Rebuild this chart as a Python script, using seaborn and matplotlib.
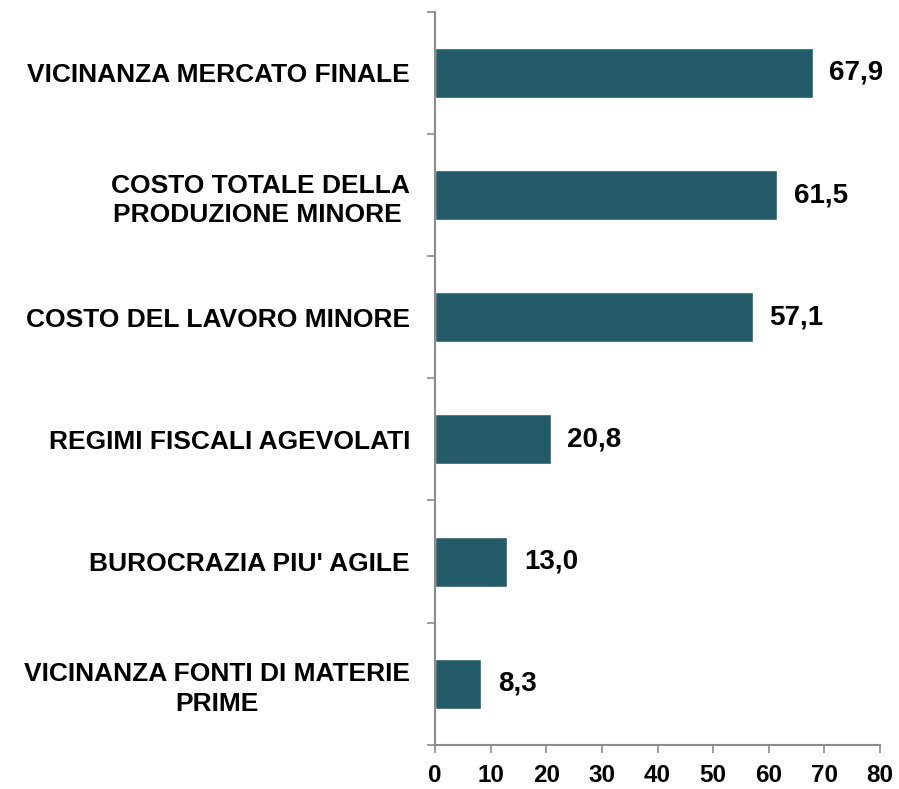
import numpy as np
import pandas as pd
import matplotlib
matplotlib.use("Agg")
import matplotlib.pyplot as plt
import seaborn as sns
from matplotlib.ticker import FixedLocator

categorie = [
    "VICINANZA MERCATO FINALE",
    "COSTO TOTALE DELLA\nPRODUZIONE MINORE ",
    "COSTO DEL LAVORO MINORE",
    "REGIMI FISCALI AGEVOLATI",
    "BUROCRAZIA PIU' AGILE",
    "VICINANZA FONTI DI MATERIE\nPRIME",
]
valori = [67.9, 61.5, 57.1, 20.8, 13.0, 8.3]
xticks = [0, 10, 20, 30, 40, 50, 60, 70, 80]

df = pd.DataFrame({"Motivo": categorie, "Valore": valori})

sns.set_style("white")
plt.rcParams["font.family"] = ["Liberation Sans", "DejaVu Sans"]
plt.rcParams["font.weight"] = "bold"

fig = plt.figure(figsize=(8.99, 7.89), dpi=100)
ax = fig.add_axes([0.484, 0.056, 0.495, 0.929])

sns.barplot(data=df, y="Motivo", x="Valore", orient="h", color="#235B69",
            saturation=1, width=0.41, ax=ax)

ax.set_xlim(0, 80)
ax.set_ylim(5.5, -0.5)
ax.set_xticks(xticks)
ax.set_xticklabels([str(t) for t in xticks], fontsize=17.5, fontweight="bold")
ax.set_xlabel("")
ax.set_ylabel("")

for lab in ax.get_yticklabels():
    lab.set_fontsize(19)
    lab.set_fontweight("bold")
    lab.set_multialignment("center")
    lab.set_linespacing(1.3)

ax.yaxis.set_minor_locator(FixedLocator(np.arange(-0.5, 6, 1)))
ax.tick_params(axis="y", which="major", length=0, pad=18, labelcolor="black")
ax.tick_params(axis="y", which="minor", length=6, width=1.2, color="#8c8c8c", left=True)
ax.tick_params(axis="x", which="major", length=6, width=1.2, color="#8c8c8c", pad=8,
               bottom=True, labelcolor="black")

for s in ["top", "right"]:
    ax.spines[s].set_visible(False)
for s in ["left", "bottom"]:
    ax.spines[s].set_color("#8c8c8c")
    ax.spines[s].set_linewidth(1.5)

for i, v in enumerate(valori):
    ax.annotate(f"{v:.1f}".replace(".", ","), xy=(v, i), xytext=(12, 0),
                textcoords="offset points", va="center", ha="left",
                fontsize=20, fontweight="bold", color="black")

fig.savefig("out.png", dpi=100)
